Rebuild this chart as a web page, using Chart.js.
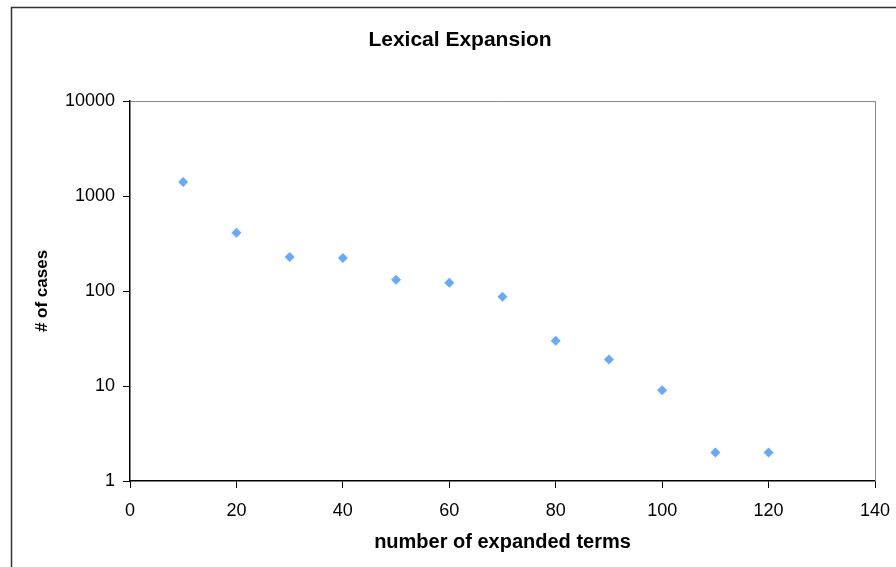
<!DOCTYPE html>
<html>
<head>
<meta charset="utf-8">
<script src="https://cdn.jsdelivr.net/npm/chart.js@4/dist/chart.umd.min.js"></script>
<style>
  html, body { margin: 0; padding: 0; background: #fff; overflow: hidden; }
  canvas { display: block; }
</style>
</head>
<body>
<canvas id="lexChart" width="896" height="567"></canvas>
<script>
// data
const expandedTerms = [10, 20, 30, 40, 50, 60, 70, 80, 90, 100, 110, 120];
const caseCounts = [1400, 410, 228, 222, 131, 122, 87, 30, 19, 9, 2, 2];
const yTicks = [1, 10, 100, 1000, 10000];

const points = expandedTerms.map((x, i) => ({ x: x, y: caseCounts[i] }));

const framePlugin = {
    id: 'frame',
    beforeDraw(chart) {
        const ctx = chart.ctx;
        ctx.save();
        ctx.fillStyle = '#fff';
        ctx.fillRect(0, 0, chart.width, chart.height);
        ctx.strokeStyle = '#333';
        ctx.lineWidth = 1.5;
        ctx.beginPath();
        ctx.moveTo(11.5, chart.height + 2);
        ctx.lineTo(11.5, 7.5);
        ctx.lineTo(chart.width + 2, 7.5);
        ctx.stroke();
        ctx.restore();
    },
    afterDraw(chart) {
        const ctx = chart.ctx;
        const a = chart.chartArea;
        ctx.save();
        ctx.strokeStyle = '#888';
        ctx.lineWidth = 1;
        ctx.beginPath();
        ctx.moveTo(a.left, a.top + 0.5);
        ctx.lineTo(a.right + 0.5, a.top + 0.5);
        ctx.lineTo(a.right + 0.5, a.bottom);
        ctx.stroke();
        ctx.fillStyle = '#000';
        ctx.font = 'bold 21px "Liberation Sans", Arial, sans-serif';
        ctx.textAlign = 'center';
        ctx.textBaseline = 'middle';
        ctx.fillText('Lexical Expansion', 460, 40);
        ctx.restore();
    }
};

new Chart(document.getElementById('lexChart'), {
    type: 'scatter',
    data: {
        datasets: [{
            label: 'cases',
            data: points,
            pointStyle: 'rectRot',
            pointRadius: 5,
            pointHoverRadius: 5,
            backgroundColor: '#66aaff',
            borderColor: '#66aaff',
            borderWidth: 0
        }]
    },
    options: {
        responsive: false,
        animation: false,
        layout: { padding: { top: 101, right: 21, left: 0, bottom: 0 } },
        plugins: {
            legend: { display: false },
            tooltip: { enabled: false }
        },
        scales: {
            x: {
                type: 'linear',
                min: 0,
                max: 140,
                ticks: {
                    stepSize: 20,
                    color: '#000',
                    padding: 12,
                    maxRotation: 0,
                    font: { family: '"Liberation Sans", Arial, sans-serif', size: 18 }
                },
                grid: { drawOnChartArea: false, tickLength: 7, color: '#000', lineWidth: 1 },
                border: { color: '#000', width: 1.5 },
                title: {
                    display: true,
                    text: 'number of expanded terms',
                    color: '#000',
                    padding: { top: 0, bottom: 13 },
                    font: { family: '"Liberation Sans", Arial, sans-serif', size: 20, weight: 'bold' }
                },
                afterFit(scale) {
                    scale.height = 86;
                    scale.paddingLeft = 0;
                    scale.paddingRight = 0;
                }
            },
            y: {
                type: 'logarithmic',
                min: 1,
                max: 10000,
                afterBuildTicks(scale) {
                    scale.ticks = yTicks.map(v => ({ value: v }));
                },
                ticks: {
                    color: '#000',
                    padding: 8,
                    callback: v => String(v),
                    font: { family: '"Liberation Sans", Arial, sans-serif', size: 18 }
                },
                grid: { drawOnChartArea: false, tickLength: 7, color: '#000', lineWidth: 1 },
                border: { color: '#000', width: 1.5 },
                title: {
                    display: true,
                    text: '# of cases',
                    color: '#000',
                    padding: { top: 32, bottom: 0 },
                    font: { family: '"Liberation Sans", Arial, sans-serif', size: 17, weight: 'bold' }
                },
                afterFit(scale) {
                    scale.width = 130;
                    scale.paddingTop = 0;
                    scale.paddingBottom = 0;
                }
            }
        }
    },
    plugins: [framePlugin]
});
</script>
</body>
</html>
